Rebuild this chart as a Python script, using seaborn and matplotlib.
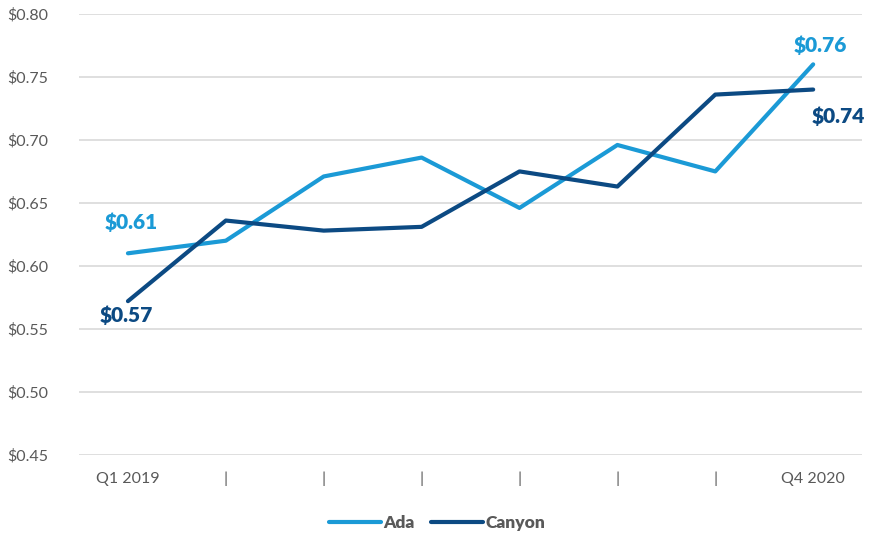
import matplotlib
matplotlib.use("Agg")
import matplotlib.pyplot as plt
import seaborn as sns
import pandas as pd
import numpy as np

quarters = ["Q1 2019", "|", "|", "|", "|", "|", "|", "Q4 2020"]
ada = [0.61, 0.62, 0.671, 0.686, 0.646, 0.696, 0.675, 0.76]
canyon = [0.572, 0.636, 0.628, 0.631, 0.675, 0.663, 0.736, 0.74]
y_ticks = [0.45, 0.50, 0.55, 0.60, 0.65, 0.70, 0.75, 0.80]

ada_color = "#1B9AD6"
canyon_color = "#0C4A83"
text_gray = "#595959"

sns.set_style("white")
plt.rcParams["font.family"] = ["Lato", "DejaVu Sans"]

df = pd.DataFrame({
    "pos": list(range(len(quarters))) * 2,
    "value": ada + canyon,
    "series": ["Ada"] * len(ada) + ["Canyon"] * len(canyon),
})

fig = plt.figure(figsize=(8.74, 5.37), dpi=100)
ax = fig.add_axes([0.0904, 0.153, 0.896, 0.821])

sns.lineplot(data=df, x="pos", y="value", hue="series",
             palette={"Ada": ada_color, "Canyon": canyon_color},
             linewidth=3, ax=ax, legend=True, sort=False)

ax.set_xlim(-0.5, len(quarters) - 0.5)
ax.set_ylim(y_ticks[0], y_ticks[-1])
ax.set_yticks(y_ticks)
ax.set_yticklabels([f"${v:.2f}" for v in y_ticks], color=text_gray, fontsize=11.5)
ax.set_xticks(range(len(quarters)))
ax.set_xticklabels(quarters, color=text_gray, fontsize=11.5)
ax.tick_params(axis="both", length=0)
ax.tick_params(axis="y", pad=22)
ax.tick_params(axis="x", pad=12)
ax.grid(axis="y", color="#D9D9D9", linewidth=1.2)
ax.set_axisbelow(True)
for s in ax.spines.values():
    s.set_visible(False)
ax.set_xlabel("")
ax.set_ylabel("")

# end-point value labels
lbl = dict(fontsize=15, fontweight="heavy")
ax.annotate(f"${ada[0]:.2f}", (0, ada[0]), xytext=(2, 22), textcoords="offset points",
            ha="center", va="center", color=ada_color, **lbl)
ax.annotate(f"${canyon[0]:.2f}", (0, canyon[0]), xytext=(-1, -10), textcoords="offset points",
            ha="center", va="center", color=canyon_color, **lbl)
ax.annotate(f"${ada[-1]:.2f}", (7, ada[-1]), xytext=(5, 14), textcoords="offset points",
            ha="center", va="center", color=ada_color, **lbl)
ax.annotate(f"${canyon[-1]:.2f}", (7, canyon[-1]), xytext=(18, -19), textcoords="offset points",
            ha="center", va="center", color=canyon_color, **lbl)

# legend centred under the figure
handles, labels = ax.get_legend_handles_labels()
ax.get_legend().remove()
leg = fig.legend(handles, labels, loc="center", bbox_to_anchor=(0.5, 1 - 523 / 537), ncol=2,
                 frameon=False, handlelength=3.0, handletextpad=0.15, columnspacing=0.9,
                 prop={"weight": "heavy", "size": 12.5})
for t in leg.get_texts():
    t.set_color(text_gray)

fig.savefig("out.png", dpi=100)
